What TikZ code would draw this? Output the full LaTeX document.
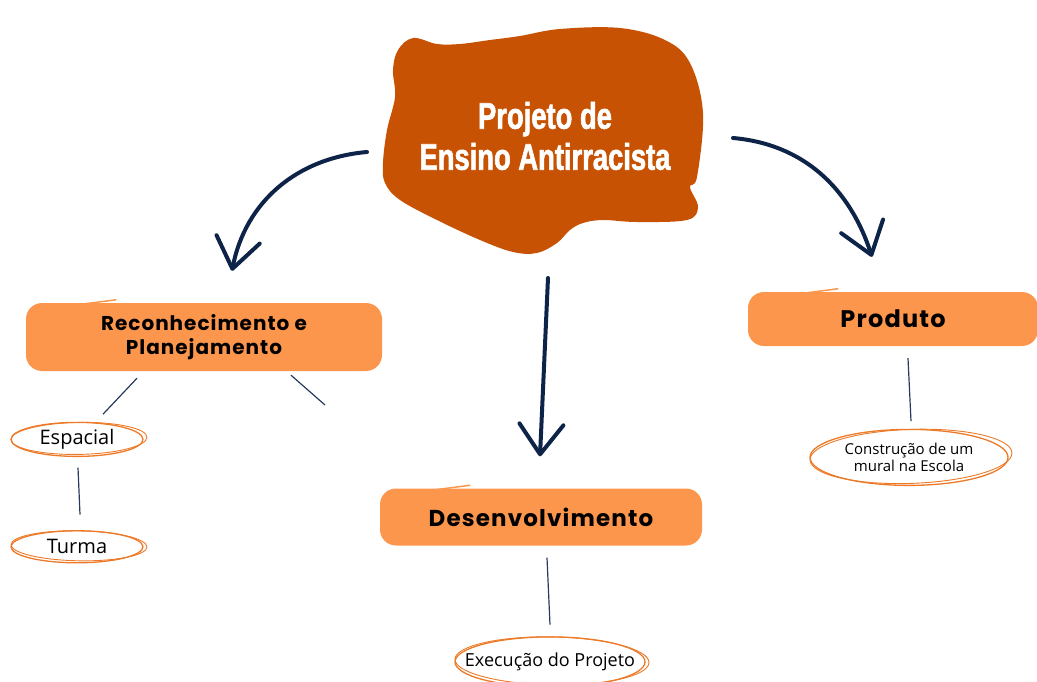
\documentclass[tikz,border=0pt]{standalone}
\usepackage{fontspec}
\usetikzlibrary{arrows.meta, positioning}
\newfontfamily\titlefont[FakeStretch=0.74, FakeBold=1.6]{Liberation Sans Bold}
\newfontfamily\boxfont[LetterSpace=5]{Poppins}
\newfontfamily\ringfont{Open Sans}
\definecolor{blobred}{RGB}{200,82,3}
\definecolor{boxorange}{RGB}{253,150,77}
\definecolor{ringorange}{RGB}{236,122,40}
\definecolor{navy}{RGB}{14,35,72}
\definecolor{linkblue}{RGB}{40,58,92}

\begin{document}
\begin{tikzpicture}[x=1pt, y=-1pt,
    brush/.style={fill=boxorange, rounded corners=16pt, inner sep=0pt, align=center, font=\boxfont\bfseries\fontsize{#1}{24}\selectfont},
    ring/.style={inner sep=0pt, align=center, font=\ringfont\fontsize{#1}{17}\selectfont},
    loop/.style={draw=ringorange, line width=#1},
    streak/.style={draw=boxorange, line width=1.5pt, line cap=round},
    link/.style={draw=linkblue, line width=1.2pt},
    arr/.style={draw=navy, line width=4pt, line cap=round, -{Straight Barb[length=30pt, width=44pt, round]}}]
    \useasboundingbox (0,0) rectangle (1037,682);
    % blob
    \fill[blobred] plot[smooth cycle, tension=0.6] coordinates {(413,38) (437,44) (460,44) (490,40) (520,36) (560,29) (620,28) (665,40) (690,63) (703,113) (697,177) (690,187) (698,207) (687,220) (637,222) (603,220) (583,223) (570,230) (557,243) (537,253) (513,252) (480,240) (437,220) (400,200) (385,183) (383,163) (387,130) (395,97) (393,70) (398,50)};
    \node[text=white, align=center, font=\titlefont\fontsize{37}{41}\selectfont] (title) at (545,136) {Projeto de\\Ensino Antirracista};
    % boxes
    \node[brush=20, minimum width=356pt, minimum height=68pt] (rec) at (204,337) {Reconhecimento e\\Planejamento};
    \node[brush=24, minimum width=290pt, minimum height=54pt] (pro) at (893,319) {Produto};
    \node[brush=23, minimum width=322pt, minimum height=57pt] (des) at (541,517) {Desenvolvimento};
    \foreach \b in {rec,pro,des}
        \draw[streak] ([xshift=20pt,yshift=-6pt]\b.north west) -- ([xshift=90pt,yshift=3pt]\b.north west);
    % rings
    \node[ring=20, minimum width=133pt, minimum height=34pt, below=51pt of rec, xshift=-127pt] (esp) {Espacial};
    \node[ring=20, minimum width=133pt, minimum height=32pt, below=74pt of esp] (tur) {Turma};
    \node[ring=15, minimum width=200pt, minimum height=56pt, below=83pt of pro, xshift=16pt] (mur) {Construção de um\\mural na Escola};
    \node[ring=18, minimum width=190pt, minimum height=50pt, below=91pt of des, xshift=9pt] (exe) {Execução do Projeto};
    \foreach \n/\rx/\ry/\r in {esp/66/17/1, tur/66/16/-1, mur/99/28/2, exe/95/25/-1}{
        \draw[loop=1.3pt] (\n.center) ellipse [x radius=\rx, y radius=\ry];
        \draw[loop=0.9pt] ([xshift=2pt,yshift=1pt]\n.center) ellipse [x radius=\rx+2, y radius=\ry-1, rotate=\r];
    }
    % links
    \coordinate (loose) at (325,405);
    \draw[link] ([xshift=-67pt,yshift=-7pt]rec.south) -- ([xshift=26pt,yshift=8pt]esp.north);
    \draw[link] ([xshift=87pt,yshift=-4pt]rec.south) -- (loose);
    \draw[link] ([xshift=1pt,yshift=-11pt]esp.south) -- ([xshift=3pt,yshift=16pt]tur.north);
    \draw[link] ([xshift=15pt,yshift=-12pt]pro.south) -- ([xshift=2pt,yshift=8pt]mur.north);
    \draw[link] ([xshift=6pt,yshift=-12pt]des.south) -- ([yshift=12pt]exe.north);
    % arrows
    \draw[arr] ([xshift=-178pt,yshift=-16pt]title.center) to[out=185, in=79] ([xshift=28pt,yshift=32pt]rec.north);
    \draw[arr] ([xshift=188pt,yshift=-2pt]title.center) to[out=-5, in=108] ([xshift=-21pt,yshift=35pt]pro.north);
    \draw[arr] ([xshift=3pt,yshift=-142pt]title.center) -- ([xshift=-1pt,yshift=32pt]des.north);
\end{tikzpicture}
\end{document}
